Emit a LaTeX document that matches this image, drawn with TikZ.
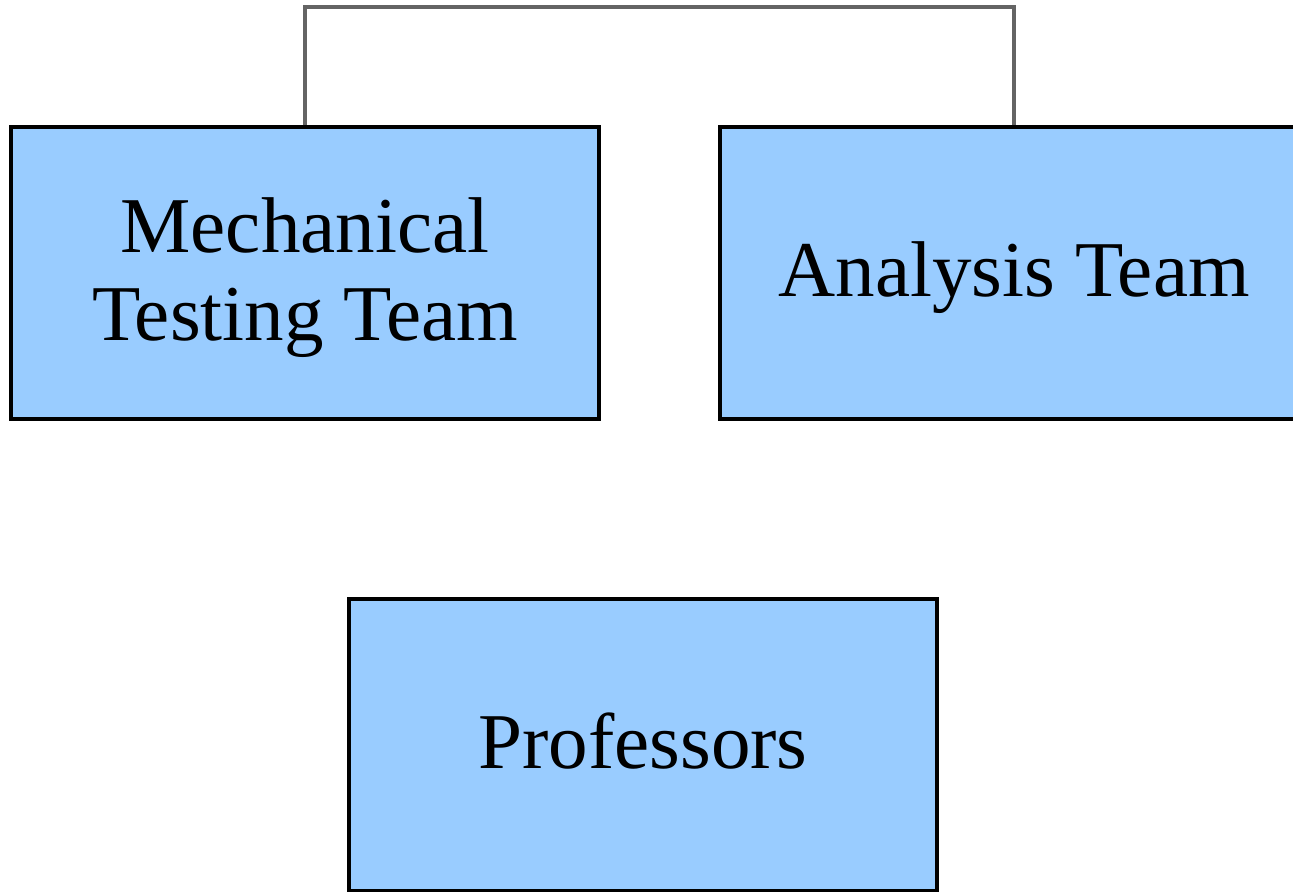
\documentclass[tikz,border=0pt]{standalone}
\usepackage{fontspec}
\setmainfont{Liberation Serif}
\usepackage{tikz}
\usetikzlibrary{positioning}
\definecolor{teamblue}{RGB}{153,204,255}
\definecolor{linkgray}{RGB}{100,100,100}
\tikzstyle{team} = [rectangle, minimum width=5.88cm, minimum height=2.92cm, text centered, align=center, text depth=0.22em, draw=black, line width=1.1pt, fill=teamblue, font=\fontsize{22.5}{25}\selectfont]
\tikzstyle{connector} = [line width=1pt, draw=linkgray]
\begin{document}
\begin{tikzpicture}[node distance = 7.09cm]
\useasboundingbox (0,0) rectangle (12.93,-8.91);
\node (mech) [team] at (3.05,-2.73) {Mechanical\\Testing Team};
\node (anal) [team, right of=mech] {Analysis Team};
\node (prof) [team, below of=mech, xshift = 3.38cm, yshift = 2.37cm] {Professors};

\draw[connector] (mech.north) -- ++(0,1.18) -| (anal.north);
\end{tikzpicture}
\end{document}
